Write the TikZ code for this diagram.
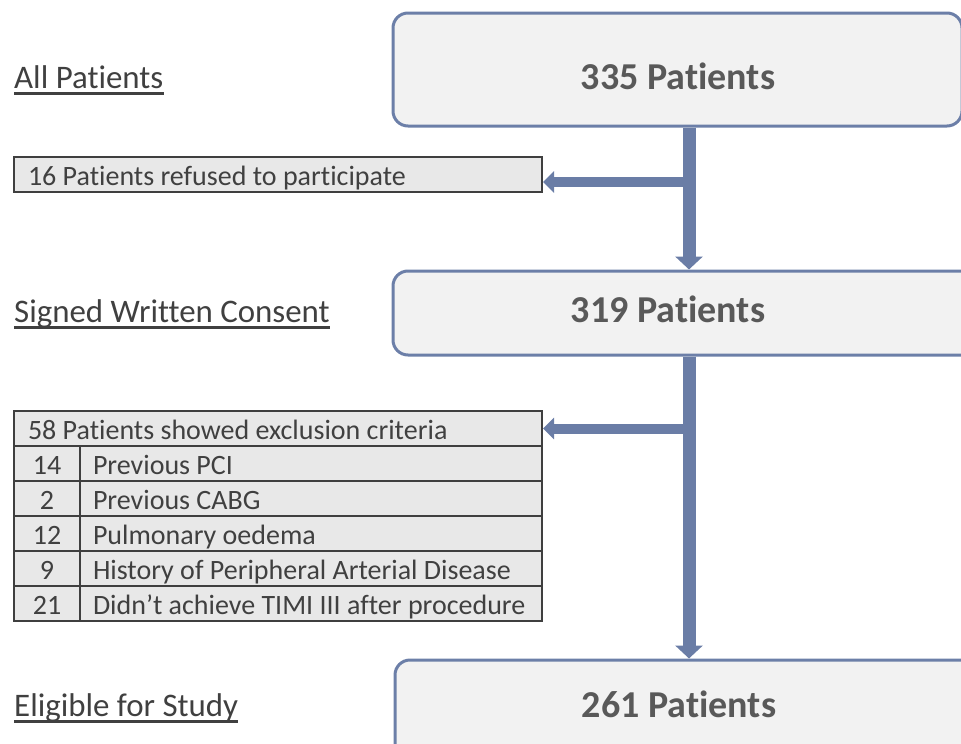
\documentclass[tikz,border=0pt]{standalone}
\usepackage{fontspec}
\setmainfont{Carlito}[Ligatures=NoCommon]
\usetikzlibrary{arrows.meta}

\definecolor{boxfill}{HTML}{F2F2F2}
\definecolor{boxedge}{HTML}{6C7FA8}
\definecolor{arrowcol}{HTML}{6A7DA6}
\definecolor{numtext}{HTML}{595959}
\definecolor{labtext}{HTML}{404040}
\definecolor{tabfill}{HTML}{E8E8E8}
\definecolor{tabedge}{HTML}{3F3F3F}

\begin{document}
\begin{tikzpicture}[x=1pt,y=-1pt,
      stage/.style ={draw=boxedge,line width=3pt,fill=boxfill,rounded corners=15pt},
      tally/.style ={font=\bfseries\fontsize{38}{40}\selectfont,text=numtext,anchor=base,inner sep=0pt},
      stagelab/.style={font=\fontsize{32.9}{34}\selectfont,text=labtext,anchor=base west,inner sep=0pt},
      uline/.style={draw=labtext,line width=3pt},
      tbox/.style={draw=tabedge,line width=2pt,fill=tabfill,minimum height=35pt,inner ysep=0pt,inner xsep=14pt,
                   font=\fontsize{28}{30}\selectfont,text=labtext,text height=23pt,text depth=2pt},
      flowv/.style={draw=arrowcol,line width=13pt,-{Triangle[width=27pt,length=13pt]}},
      flowh/.style={draw=arrowcol,line width=10pt,-{Triangle[width=21pt,length=11pt]}}]
      \useasboundingbox (0,0) rectangle (961,744);
      % Stage boxes (right)
      \node[stage,minimum width=569pt,minimum height=113pt] (all) at (677.5,69.5) {};
      \node[stage,minimum width=607pt,minimum height=84pt] (signed) at (696.5,313) {};
      \node[stage,minimum width=605pt,minimum height=140pt] (eligible) at (697.5,730) {};
      \node[tally] (t1) at (678,89) {335 Patients};
      \node[tally] (t2) at (668,322) {319 Patients};
      \node[tally] (t3) at (679,717) {261 Patients};
      % Stage labels (left)
      \foreach \txt/\yy [count=\i] in {All Patients/88, Signed Written Consent/322, Eligible for Study/716}{
        \node[stagelab] (lab\i) at (14,\yy) {\txt};
        \draw[uline] ([yshift=-5pt]lab\i.base west) -- ([yshift=-5pt]lab\i.base east);
      }
      % Dropouts
      \node[tbox,text width=500pt,align=flush left] (refuse) at (278,174.5) {16 Patients refused to participate};
      \node[tbox,text width=500pt,align=flush left] (excl) at (278,428.5) {58 Patients showed exclusion criteria};
      \foreach \num/\why [count=\i] in {14/Previous PCI, 2/Previous CABG, 12/Pulmonary oedema,
          9/History of Peripheral Arterial Disease, 21/Didn’t achieve TIMI III after procedure}{
        \node[tbox,minimum width=66pt,inner xsep=0pt] (n\i) at (47,428.5+35*\i) {\num};
        \node[tbox,text width=436pt,inner xsep=13pt,align=flush left] (w\i) at (311,428.5+35*\i) {\why};
      }
      % Flow arrows
      \coordinate (spine) at (689,0);
      \coordinate (br1) at (689,182);
      \coordinate (br2) at (689,428.5);
      \draw[flowv] (all.south -| spine) -- (signed.north -| spine);
      \draw[flowv] (signed.south -| spine) -- (eligible.north -| spine);
      \draw[flowh] (br1) -- (br1 -| refuse.east);
      \draw[flowh] (br2) -- (br2 -| excl.east);
  \end{tikzpicture}
\end{document}
